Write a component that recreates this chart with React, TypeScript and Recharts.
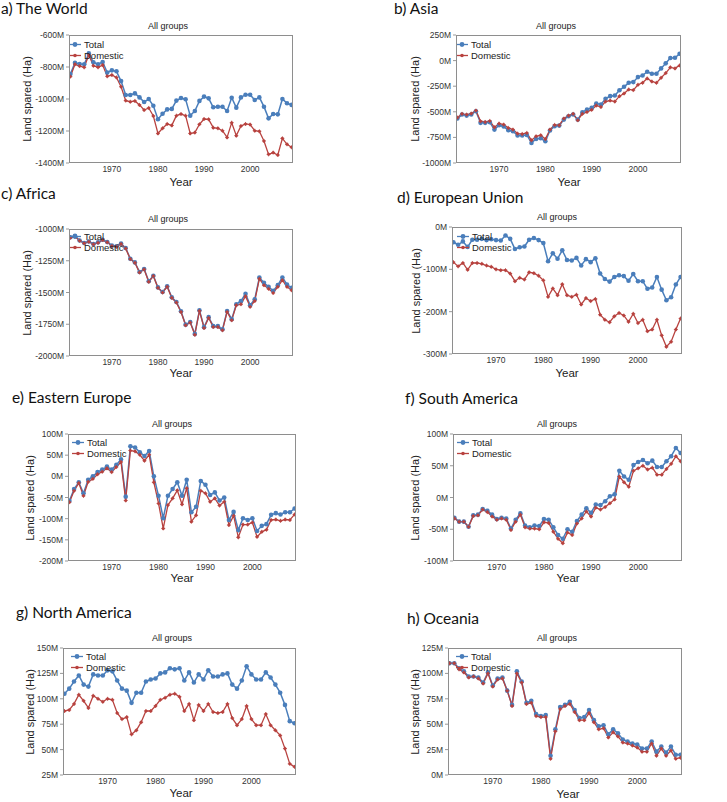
import React from 'react';
import { LineChart, Line, XAxis, YAxis, Legend } from 'recharts';

const years = [1961,1962,1963,1964,1965,1966,1967,1968,1969,1970,1971,1972,1973,1974,1975,1976,1977,1978,1979,1980,1981,1982,1983,1984,1985,1986,1987,1988,1989,1990,1991,1992,1993,1994,1995,1996,1997,1998,1999,2000,2001,2002,2003,2004,2005,2006,2007,2008,2009];
const xTicks = [1970, 1980, 1990, 2000];

const worldTotal = [-844,-773,-781,-783,-715,-771,-783,-769,-835,-821,-827,-888,-975,-975,-965,-990,-1019,-1000,-1042,-1127,-1092,-1065,-1062,-1010,-994,-1002,-1104,-1075,-1012,-985,-996,-1052,-1048,-1048,-1075,-992,-1054,-990,-973,-973,-1006,-990,-1048,-1121,-1094,-1096,-1000,-1027,-1037];
const worldDomestic = [-860,-783,-794,-802,-725,-792,-802,-788,-858,-850,-865,-923,-1010,-1017,-1012,-1037,-1069,-1056,-1106,-1215,-1183,-1156,-1165,-1104,-1094,-1104,-1215,-1210,-1158,-1125,-1127,-1179,-1183,-1198,-1240,-1148,-1229,-1169,-1156,-1160,-1198,-1202,-1262,-1346,-1335,-1350,-1246,-1283,-1302];

const asiaTotal = [-566,-527,-537,-527,-494,-608,-608,-602,-674,-631,-644,-680,-690,-732,-732,-726,-804,-765,-759,-788,-683,-641,-635,-576,-543,-527,-576,-504,-478,-462,-419,-429,-373,-347,-341,-289,-256,-217,-210,-161,-145,-109,-129,-129,-76,-27,25,28,67];
const asiaDomestic = [-556,-520,-527,-517,-488,-592,-599,-589,-651,-615,-625,-657,-674,-713,-716,-706,-778,-739,-729,-765,-674,-628,-631,-566,-537,-520,-582,-520,-501,-481,-439,-452,-400,-390,-400,-347,-321,-282,-288,-236,-217,-174,-204,-217,-168,-122,-66,-76,-47];

const africaTotal = [-1065,-1053,-1090,-1110,-1098,-1118,-1105,-1085,-1102,-1131,-1136,-1115,-1150,-1234,-1263,-1339,-1315,-1412,-1368,-1460,-1496,-1451,-1538,-1575,-1648,-1753,-1732,-1826,-1640,-1773,-1694,-1765,-1765,-1790,-1646,-1710,-1592,-1568,-1510,-1600,-1553,-1382,-1424,-1455,-1487,-1442,-1382,-1437,-1463];
const africaDomestic = [-1068,-1061,-1092,-1113,-1100,-1121,-1108,-1087,-1105,-1134,-1139,-1118,-1153,-1237,-1266,-1342,-1318,-1416,-1371,-1463,-1500,-1455,-1542,-1579,-1653,-1758,-1737,-1832,-1645,-1779,-1700,-1771,-1771,-1797,-1653,-1718,-1600,-1592,-1529,-1613,-1566,-1392,-1442,-1471,-1503,-1455,-1403,-1455,-1482];

const euTotal = [-36,-42,-34,-47,-30,-30,-28,-31,-29,-31,-32,-20,-28,-52,-48,-46,-30,-26,-31,-38,-81,-62,-75,-55,-78,-79,-73,-91,-76,-83,-74,-110,-123,-129,-118,-114,-116,-127,-111,-128,-128,-146,-143,-118,-148,-173,-166,-136,-118];
const euDomestic = [-83,-93,-85,-101,-85,-85,-87,-91,-94,-100,-102,-102,-110,-128,-120,-124,-107,-109,-115,-126,-165,-145,-161,-135,-161,-165,-160,-183,-168,-175,-170,-207,-219,-225,-211,-203,-209,-224,-205,-227,-219,-246,-242,-219,-256,-283,-271,-242,-216];

const eastEuTotal = [-58,-30,-14,-40,-8,0,10,16,23,16,27,40,-48,71,68,57,48,60,0,-46,-99,-46,-30,-14,-46,-8,-85,-72,-11,-20,-44,-38,-57,-50,-103,-84,-127,-99,-103,-99,-129,-117,-113,-91,-87,-90,-85,-85,-76];
const eastEuDomestic = [-61,-34,-16,-46,-13,-6,5,11,19,10,22,34,-57,61,59,51,37,51,-14,-64,-123,-68,-52,-33,-66,-28,-107,-92,-34,-40,-60,-52,-69,-60,-115,-93,-144,-114,-114,-109,-143,-131,-126,-103,-102,-105,-102,-103,-90];

const southAmTotal = [-32,-38,-38,-46,-28,-27,-18,-21,-27,-34,-32,-33,-49,-35,-25,-44,-47,-44,-45,-34,-35,-47,-59,-65,-50,-54,-37,-27,-17,-24,-11,-12,-6,2,5,42,33,28,51,56,59,54,58,48,48,57,65,78,70];
const southAmDomestic = [-33,-38,-38,-46,-29,-28,-19,-23,-30,-35,-33,-35,-51,-38,-27,-47,-49,-49,-50,-39,-40,-54,-65,-72,-55,-59,-41,-33,-22,-30,-16,-19,-15,-9,-3,33,24,17,42,46,50,44,47,36,36,45,53,65,57];

const northAmTotal = [105,110,117,123,114,112,124,123,123,128,127,118,110,108,96,106,106,117,119,120,125,126,130,129,130,118,126,116,124,119,128,122,122,124,125,114,110,118,132,124,119,119,126,121,114,106,94,78,76];
const northAmDomestic = [88,89,95,104,98,91,103,100,97,100,99,86,80,82,65,69,77,88,88,93,99,101,104,105,102,88,95,79,94,88,95,87,86,87,95,81,74,80,93,80,74,74,85,74,69,64,51,36,33];

const oceaniaTotal = [110,110,105,102,97,97,96,91,101,88,95,96,83,69,102,92,71,73,60,58,59,19,45,67,69,72,64,56,57,64,54,48,49,40,45,41,35,33,31,30,26,26,33,23,28,22,28,20,20];
const oceaniaDomestic = [110,110,104,101,96,97,95,90,100,87,94,95,83,68,100,91,70,71,58,57,57,16,43,65,68,70,62,54,54,61,52,45,46,37,42,38,32,31,29,27,23,23,31,19,26,19,24,16,17];

const BLUE = '#4a7ebb';
const RED = '#b8423f';

type PanelCfg = {
  title: string; total: number[]; domestic: number[]; domain: [number, number]; yTicks: number[];
  pl: number; pt: number; pw: number; ph: number;
  titleX: number; titleY: number; groupX: number; groupY: number; yearX: number; yearY: number; ylabX: number;
  legDx: number; legDy: number;
};

const YW = 46;
const XH = 22;
const TM = 8;

const LegendContent = () => (
  <div style={{ fontFamily: '"Liberation Sans", Arial, sans-serif', fontSize: 9.5, color: '#222', lineHeight: '11px' }}>
    {[['Total', BLUE, 2.4], ['Domestic', RED, 1.8]].map(([label, color, r]) => (
      <div key={label as string} style={{ display: 'flex', alignItems: 'center', height: 11 }}>
        <svg width={12} height={11} style={{ marginRight: 3 }}>
          <line x1={0} y1={5.5} x2={12} y2={5.5} stroke={color as string} strokeWidth={1.3} />
          <circle cx={6} cy={5.5} r={r as number} fill={color as string} />
        </svg>
        <span>{label}</span>
      </div>
    ))}
  </div>
);

const BlueDot = (props: any) => {
  const { cx, cy } = props;
  if (cx == null || cy == null) return null;
  return <circle cx={cx} cy={cy} r={2.3} fill={BLUE} stroke="none" />;
};
const RedDot = (props: any) => {
  const { cx, cy } = props;
  if (cx == null || cy == null) return null;
  return (
    <g>
      <circle cx={cx} cy={cy} r={1.5} fill={RED} stroke="none" />
      <path d={`M${cx - 2},${cy} L${cx + 2},${cy} M${cx},${cy - 2} L${cx},${cy + 2}`} stroke={RED} strokeWidth={0.8} />
    </g>
  );
};

const Panel = ({ c }: { c: PanelCfg }) => {
  const data = years.map((y, i) => ({ year: y, total: c.total[i], domestic: c.domestic[i] }));
  const axisFont = { fontSize: 8.5, fill: '#333', fontFamily: '"Liberation Sans", Arial, sans-serif' };
  return (
    <>
      <div style={{ position: 'absolute', left: c.titleX, top: c.titleY, transform: 'translateY(-50%)', fontFamily: 'Lato, "Open Sans", sans-serif', fontSize: 15.5, color: '#111', whiteSpace: 'nowrap' }}>{c.title}</div>
      <div style={{ position: 'absolute', left: c.groupX, top: c.groupY, transform: 'translate(-50%,-50%)', fontFamily: '"Liberation Sans", Arial, sans-serif', fontSize: 9, color: '#222', whiteSpace: 'nowrap' }}>All groups</div>
      <div style={{ position: 'absolute', left: c.yearX, top: c.yearY, transform: 'translate(-50%,-50%)', fontFamily: '"Liberation Sans", Arial, sans-serif', fontSize: 11.5, color: '#222', whiteSpace: 'nowrap' }}>Year</div>
      <div style={{ position: 'absolute', left: c.ylabX, top: c.pt + c.ph / 2, transform: 'translate(-50%,-50%) rotate(-90deg)', fontFamily: '"Liberation Sans", Arial, sans-serif', fontSize: 11, color: '#222', whiteSpace: 'nowrap' }}>Land spared (Ha)</div>
      <div style={{ position: 'absolute', left: c.pl - YW, top: c.pt - TM }}>
        <LineChart width={YW + c.pw} height={c.ph + XH + TM} data={data} margin={{ top: TM, right: 0, bottom: 0, left: 0 }}>
          <XAxis dataKey="year" type="number" domain={[1960.7, 2009.3]} ticks={xTicks} allowDataOverflow
            height={XH} tick={axisFont} tickLine={false} axisLine={false} tickSize={2} tickMargin={1} interval={0} />
          <YAxis type="number" domain={c.domain} ticks={c.yTicks} width={YW} tick={axisFont}
            tickFormatter={(v: number) => `${v}M`} tickLine={{ stroke: '#999' }} tickSize={3} axisLine={false} interval={0} />
          <Legend layout="vertical" align="center" verticalAlign="middle" content={<LegendContent />}
            wrapperStyle={{ left: YW + c.legDx, top: TM + c.legDy, width: 80, height: 24 }} />
          <Line dataKey="total" name="Total" stroke={BLUE} strokeWidth={1.5} dot={<BlueDot />} isAnimationActive={false} />
          <Line dataKey="domestic" name="Domestic" stroke={RED} strokeWidth={1.3} dot={<RedDot />} isAnimationActive={false} />
        </LineChart>
      </div>
      <div style={{ position: 'absolute', left: c.pl, top: c.pt, width: c.pw, height: c.ph, boxSizing: 'border-box', border: '1px solid #8e8e8e', pointerEvents: 'none' }} />
    </>
  );
};

const panels: PanelCfg[] = [
  { title: 'a) The World', total: worldTotal, domestic: worldDomestic, domain: [-1400, -600], yTicks: [-1400, -1200, -1000, -800, -600],
    pl: 69, pt: 35, pw: 224, ph: 128, titleX: 1, titleY: 8, groupX: 168, groupY: 26, yearX: 181, yearY: 182, ylabX: 27, legDx: 0, legDy: 4 },
  { title: 'b) Asia', total: asiaTotal, domestic: asiaDomestic, domain: [-1000, 250], yTicks: [-1000, -750, -500, -250, 0, 250],
    pl: 456, pt: 35, pw: 225, ph: 128, titleX: 394, titleY: 8, groupX: 556, groupY: 26, yearX: 569, yearY: 182, ylabX: 415, legDx: 0, legDy: 4 },
  { title: 'c) Africa', total: africaTotal, domestic: africaDomestic, domain: [-2000, -1000], yTicks: [-2000, -1750, -1500, -1250, -1000],
    pl: 69, pt: 229, pw: 224, ph: 127, titleX: 1, titleY: 193, groupX: 168, groupY: 219, yearX: 181, yearY: 373, ylabX: 27, legDx: 0, legDy: 2 },
  { title: 'd) European Union', total: euTotal, domestic: euDomestic, domain: [-300, 0], yTicks: [-300, -200, -100, 0],
    pl: 452, pt: 227, pw: 230, ph: 127, titleX: 397, titleY: 197, groupX: 557, groupY: 217, yearX: 567, yearY: 373, ylabX: 416, legDx: 5, legDy: 4 },
  { title: 'e) Eastern Europe', total: eastEuTotal, domestic: eastEuDomestic, domain: [-200, 100], yTicks: [-200, -150, -100, -50, 0, 50, 100],
    pl: 68, pt: 434, pw: 228, ph: 127, titleX: 12, titleY: 397, groupX: 172, groupY: 424, yearX: 182, yearY: 578, ylabX: 30, legDx: 4, legDy: 3 },
  { title: 'f) South America', total: southAmTotal, domestic: southAmDomestic, domain: [-100, 100], yTicks: [-100, -50, 0, 50, 100],
    pl: 453, pt: 434, pw: 229, ph: 127, titleX: 405, titleY: 398, groupX: 557, groupY: 424, yearX: 568, yearY: 578, ylabX: 415, legDx: 4, legDy: 3 },
  { title: 'g) North America', total: northAmTotal, domestic: northAmDomestic, domain: [25, 150], yTicks: [25, 50, 75, 100, 125, 150],
    pl: 63, pt: 648, pw: 233, ph: 127, titleX: 16, titleY: 612, groupX: 172, groupY: 638, yearX: 181, yearY: 793, ylabX: 30, legDx: 8, legDy: 3 },
  { title: 'h) Oceania', total: oceaniaTotal, domestic: oceaniaDomestic, domain: [0, 125], yTicks: [0, 25, 50, 75, 100, 125],
    pl: 448, pt: 648, pw: 234, ph: 127, titleX: 407, titleY: 618, groupX: 557, groupY: 638, yearX: 568, yearY: 794, ylabX: 415, legDx: 8, legDy: 3 },
];

export default function App() {
  return (
    <div style={{ position: 'absolute', left: 0, top: 0, width: 727, height: 802, background: '#fff', overflow: 'hidden' }}>
      {panels.map((p) => <Panel key={p.title} c={p} />)}
    </div>
  );
}
